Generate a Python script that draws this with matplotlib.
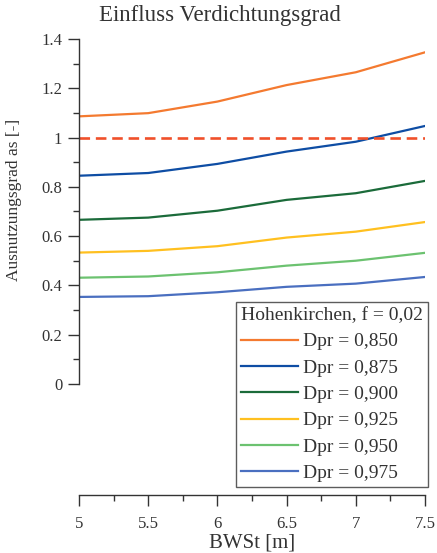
import matplotlib.pyplot as plt

plt.rcParams['font.family'] = ['Liberation Serif', 'DejaVu Serif']

# Werte aus der Parameterstudie (Ausnutzungsgrad je Bodenwasserstand)
bwst = [5.0, 5.5, 6.0, 6.5, 7.0, 7.5]
as_0850 = [1.086, 1.099, 1.146, 1.213, 1.265, 1.346]
as_0875 = [0.845, 0.856, 0.893, 0.943, 0.983, 1.047]
as_0900 = [0.666, 0.675, 0.703, 0.747, 0.774, 0.824]
as_0925 = [0.533, 0.540, 0.559, 0.594, 0.618, 0.657]
as_0950 = [0.431, 0.436, 0.453, 0.480, 0.500, 0.532]
as_0975 = [0.353, 0.356, 0.372, 0.394, 0.407, 0.434]
grenzwert = 1.0

reihen = [as_0850, as_0875, as_0900, as_0925, as_0950, as_0975]
namen = ['Dpr = 0,850', 'Dpr = 0,875', 'Dpr = 0,900',
         'Dpr = 0,925', 'Dpr = 0,950', 'Dpr = 0,975']
farben = ['#F47A30', '#0E4DA4', '#1B6B3A', '#FFC020', '#6CC270', '#4A6FC0']

fig = plt.figure(figsize=(4.37, 5.53), dpi=100)
ax = fig.add_axes([79 / 437, 58 / 553, 346 / 437, 456 / 553])

for werte, name, farbe in zip(reihen, namen, farben):
    ax.plot(bwst, werte, color=farbe, lw=1.6, label=name)

# Grenzlinie as = 1
ax.plot([bwst[0], bwst[-1]], [grenzwert, grenzwert], color='#F0502A',
        lw=1.9, dashes=(4, 2.2))

ax.set_xlim(5, 7.5)
ax.set_ylim(-0.451, 1.4)
ax.set_xticks(bwst)
ax.set_xticklabels(['5', '5.5', '6', '6.5', '7', '7.5'])
ax.set_xticks([5.25, 5.75, 6.25, 6.75, 7.25], minor=True)
ax.set_yticks([0, 0.2, 0.4, 0.6, 0.8, 1.0, 1.2, 1.4])
ax.set_yticklabels(['0', '0.2', '0.4', '0.6', '0.8', '1', '1.2', '1.4'])
ax.set_yticks([0.1, 0.3, 0.5, 0.7, 0.9, 1.1, 1.3], minor=True)

for s in ['top', 'right']:
    ax.spines[s].set_visible(False)
ax.spines['left'].set_bounds(0, 1.4)
for s in ['left', 'bottom']:
    ax.spines[s].set_color('#333333')
    ax.spines[s].set_linewidth(1.0)

ax.tick_params(which='major', length=8, width=1, color='#333333',
               labelsize=12, labelcolor='#333333', pad=4)
ax.tick_params(axis='x', which='major', pad=7)
ax.tick_params(which='minor', length=4, width=1, color='#333333')

ax.set_xlabel('BWSt [m]', fontsize=15, color='#333333', labelpad=1)
ax.set_ylabel('Ausnutzungsgrad as [-]', fontsize=12.5, color='#333333')
ax.yaxis.set_label_coords(-0.165, 0.647)

fig.text(220 / 437, 1 - 16 / 553, 'Einfluss Verdichtungsgrad', fontsize=16.5,
         color='#333333', ha='center', va='center')

leg = ax.legend(title='Hohenkirchen, f = 0,02', loc='lower right',
                bbox_to_anchor=(428 / 437, 1 - 487 / 553),
                bbox_transform=fig.transFigure, fontsize=14, title_fontsize=14,
                frameon=True, fancybox=False, edgecolor='#333333',
                handlelength=2.9, handletextpad=0.3, labelspacing=0.45,
                borderpad=0.25, borderaxespad=0)
leg._legend_box.align = 'left'
leg.get_frame().set_linewidth(1.0)
for t in leg.get_texts():
    t.set_color('#333333')
leg.get_title().set_color('#333333')

fig.savefig('out.png', dpi=100)
